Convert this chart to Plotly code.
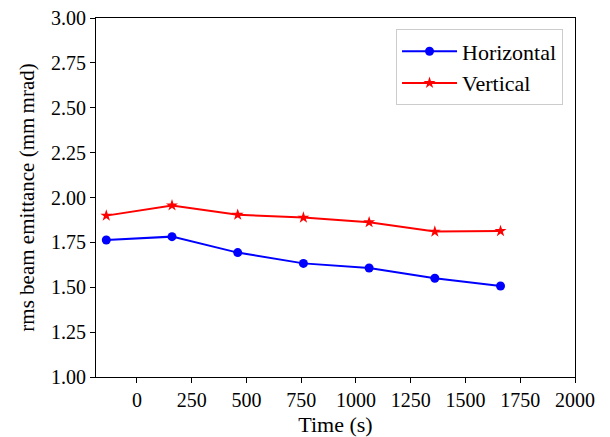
import plotly.graph_objects as go

time_s = [-140, 160, 460, 760, 1060, 1360, 1660]
horizontal = [1.763, 1.782, 1.693, 1.633, 1.607, 1.550, 1.507]
vertical = [1.899, 1.956, 1.904, 1.888, 1.862, 1.810, 1.813]
x_ticks = [0, 250, 500, 750, 1000, 1250, 1500, 1750, 2000]
y_ticks = [1.00, 1.25, 1.50, 1.75, 2.00, 2.25, 2.50, 2.75, 3.00]

FONT = "Liberation Serif"

fig = go.Figure()
fig.add_trace(go.Scatter(x=time_s, y=horizontal, mode="lines+markers", name="Horizontal",
                         line=dict(color="#0000ff", width=2),
                         marker=dict(symbol="circle", size=9, color="#0000ff")))
fig.add_trace(go.Scatter(x=time_s, y=vertical, mode="lines+markers", name="Vertical",
                         line=dict(color="#ff0000", width=2),
                         marker=dict(symbol="star", size=9, color="#ff0000")))

axis_common = dict(showgrid=False, zeroline=False, showline=True, linecolor="black",
                   linewidth=1, mirror=True, ticks="outside", ticklen=5, tickwidth=1,
                   tickcolor="black", automargin=False,
                   tickfont=dict(family=FONT, size=20, color="black"))

fig.update_layout(
    width=610, height=437,
    margin=dict(l=96, r=35, t=18, b=60),
    plot_bgcolor="white", paper_bgcolor="white",
    font=dict(family=FONT, size=20, color="black"),
    xaxis=dict(range=[-187, 2000], tickvals=x_ticks, ticktext=[str(v) for v in x_ticks],
               title=dict(text="Time (s)", font=dict(family=FONT, size=22), standoff=7),
               **axis_common),
    yaxis=dict(range=[1.0, 3.0], tickvals=y_ticks, ticktext=[f"{v:.2f}" for v in y_ticks],
               title=dict(text="rms beam emittance (mm\u2009mrad)", font=dict(family=FONT, size=21), standoff=10),
               **axis_common),
    legend=dict(x=0.975, y=0.968, xanchor="right", yanchor="top",
                bgcolor="rgba(255,255,255,0.8)", bordercolor="#cccccc", borderwidth=1,
                font=dict(family=FONT, size=22), itemwidth=55),
)

fig.write_html("out.html")
